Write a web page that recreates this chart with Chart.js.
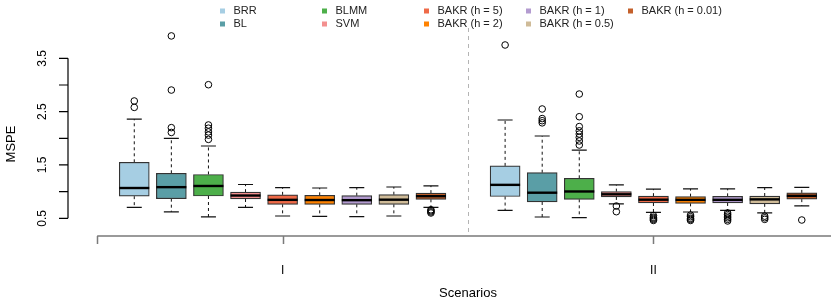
<!DOCTYPE html>
<html>
<head>
<meta charset="utf-8">
<script src="https://cdn.jsdelivr.net/npm/chart.js@4.4.1/dist/chart.umd.min.js"></script>
<style>
  html, body { margin: 0; padding: 0; background: #fff; }
  canvas { display: block; }
</style>
</head>
<body>
<canvas id="chart" width="831" height="302"></canvas>
<script>
const methods = ["BRR", "BL", "BLMM", "SVM", "BAKR (h = 5)", "BAKR (h = 2)", "BAKR (h = 1)", "BAKR (h = 0.5)", "BAKR (h = 0.01)"];
const scenarios = ["I", "II"];
const yTicks = [0.5, 1, 1.5, 2, 2.5, 3, 3.5];
const yTickLabels = ["0.5", "", "1.5", "", "2.5", "", "3.5"];

// scenario I
const whiskerLowI = [0.706, 0.622, 0.527, 0.706, 0.543, 0.537, 0.530, 0.543, 0.703];
const boxLowI = [0.915, 0.868, 0.918, 0.862, 0.762, 0.762, 0.762, 0.762, 0.856];
const medianI = [1.068, 1.084, 1.106, 0.927, 0.846, 0.843, 0.840, 0.849, 0.915];
const boxHighI = [1.550, 1.344, 1.322, 0.990, 0.940, 0.931, 0.924, 0.943, 0.972];
const whiskerHighI = [2.360, 2.000, 1.856, 1.134, 1.074, 1.068, 1.074, 1.087, 1.109];
const outliersI = [
  [2.58, 2.70],
  [2.11, 2.20, 2.905, 3.92],
  [1.98, 2.06, 2.12, 2.19, 2.25, 3.005],
  [],
  [],
  [],
  [],
  [],
  [0.60, 0.62, 0.64, 0.66]
];

// scenario II
const whiskerLowII = [0.650, 0.524, 0.512, 0.771, 0.612, 0.618, 0.650, 0.600, 0.733];
const boxLowII = [0.908, 0.806, 0.856, 0.900, 0.787, 0.780, 0.787, 0.771, 0.859];
const medianII = [1.127, 0.980, 1.003, 0.950, 0.849, 0.846, 0.846, 0.855, 0.921];
const boxHighII = [1.483, 1.355, 1.250, 1.000, 0.915, 0.906, 0.912, 0.918, 0.977];
const whiskerHighII = [2.343, 2.043, 1.778, 1.127, 1.046, 1.052, 1.052, 1.077, 1.080];
const outliersII = [
  [3.75],
  [2.29, 2.33, 2.37, 2.55],
  [1.874, 1.95, 2.018, 2.08, 2.14, 2.22, 2.405, 2.83],
  [0.624, 0.73],
  [0.46, 0.48, 0.50, 0.52, 0.55],
  [0.46, 0.48, 0.50, 0.53, 0.56],
  [0.45, 0.48, 0.51, 0.54, 0.57, 0.60],
  [0.48, 0.51, 0.54],
  [0.468]
];

const boxColors = ["#a6cee3", "#5a9ea6", "#4daf4a", "#f3908f", "#ef6a48", "#ff8200", "#b39bd0", "#cfbb98", "#c4602b"];

const stats = [
  { lo: whiskerLowI, q1: boxLowI, med: medianI, q3: boxHighI, hi: whiskerHighI, out: outliersI },
  { lo: whiskerLowII, q1: boxLowII, med: medianII, q3: boxHighII, hi: whiskerHighII, out: outliersII }
];

// box slot: scenario I at 1..9, gap at 10, scenario II at 11..19
const slot = (s, i) => s * 10 + i + 1;

const boxes = [];
const boxFill = [];
const points = [];
const whiskers = [];
stats.forEach((st, s) => {
  methods.forEach((m, i) => {
    const pos = slot(s, i);
    boxes.push({ x: pos, y: [st.q1[i], st.q3[i]] });
    boxFill.push(boxColors[i]);
    whiskers.push({ x: pos, lo: st.lo[i], hi: st.hi[i], q1: st.q1[i], q3: st.q3[i], med: st.med[i] });
    st.out[i].forEach((v) => points.push({ x: pos, y: v }));
  });
});

const font = "'Liberation Sans', Arial, Helvetica, sans-serif";

const boxPlugin = {
  id: "boxplot",
  beforeDatasetsDraw(chart) {
    const { ctx, scales: { x, y } } = chart;
    ctx.save();

    // scenario separator
    ctx.strokeStyle = "#b4b4b4";
    ctx.lineWidth = 1;
    ctx.setLineDash([4, 4]);
    const sx = Math.round(x.getPixelForValue(10)) + 0.5;
    ctx.beginPath();
    ctx.moveTo(sx, 28);
    ctx.lineTo(sx, 232);
    ctx.stroke();

    // whiskers
    const meta = chart.getDatasetMeta(0);
    whiskers.forEach((w, k) => {
      const px = x.getPixelForValue(w.x);
      const half = meta.data[k].width / 4;
      ctx.strokeStyle = "#111";
      ctx.lineWidth = 1;
      ctx.setLineDash([3, 3]);
      ctx.beginPath();
      ctx.moveTo(px, y.getPixelForValue(w.q3));
      ctx.lineTo(px, y.getPixelForValue(w.hi));
      ctx.moveTo(px, y.getPixelForValue(w.q1));
      ctx.lineTo(px, y.getPixelForValue(w.lo));
      ctx.stroke();
      ctx.setLineDash([]);
      ctx.lineWidth = 1.2;
      ctx.beginPath();
      ctx.moveTo(px - half, y.getPixelForValue(w.hi));
      ctx.lineTo(px + half, y.getPixelForValue(w.hi));
      ctx.moveTo(px - half, y.getPixelForValue(w.lo));
      ctx.lineTo(px + half, y.getPixelForValue(w.lo));
      ctx.stroke();
    });
    ctx.restore();
  },
  afterDatasetsDraw(chart) {
    const { ctx, scales: { x, y } } = chart;
    const meta = chart.getDatasetMeta(0);
    ctx.save();

    // medians
    ctx.strokeStyle = "#000";
    ctx.lineWidth = 2.4;
    whiskers.forEach((w, k) => {
      const px = x.getPixelForValue(w.x);
      const half = meta.data[k].width / 2;
      const py = y.getPixelForValue(w.med);
      ctx.beginPath();
      ctx.moveTo(px - half, py);
      ctx.lineTo(px + half, py);
      ctx.stroke();
    });

    // y axis
    const ax = chart.chartArea.left;
    ctx.strokeStyle = "#000";
    ctx.lineWidth = 1.2;
    ctx.beginPath();
    ctx.moveTo(ax, y.getPixelForValue(yTicks[0]));
    ctx.lineTo(ax, y.getPixelForValue(yTicks[yTicks.length - 1]));
    yTicks.forEach((t) => {
      const py = y.getPixelForValue(t);
      ctx.moveTo(ax - 9, py);
      ctx.lineTo(ax, py);
    });
    ctx.stroke();
    ctx.fillStyle = "#000";
    ctx.font = "12px " + font;
    ctx.textAlign = "center";
    ctx.textBaseline = "middle";
    yTicks.forEach((t, i) => {
      if (!yTickLabels[i]) return;
      ctx.save();
      ctx.translate(43, y.getPixelForValue(t));
      ctx.rotate(-Math.PI / 2);
      ctx.fillText(yTickLabels[i], 0, 0);
      ctx.restore();
    });
    ctx.save();
    ctx.font = "13px " + font;
    ctx.translate(11, 144);
    ctx.rotate(-Math.PI / 2);
    ctx.fillText("MSPE", 0, 0);
    ctx.restore();

    // x axis
    const ay = 236;
    ctx.strokeStyle = "#7a7a7a";
    ctx.lineWidth = 1.5;
    ctx.beginPath();
    ctx.moveTo(x.getPixelForValue(0), ay);
    ctx.lineTo(x.getPixelForValue(20), ay);
    [0, 5, 15, 20].forEach((t) => {
      const px = Math.round(x.getPixelForValue(t)) + 0.5;
      ctx.moveTo(px, ay);
      ctx.lineTo(px, ay + 8);
    });
    ctx.stroke();
    ctx.font = "12px " + font;
    scenarios.forEach((s, i) => {
      ctx.fillText(s, x.getPixelForValue(slot(i, 4)), 271);
    });
    ctx.font = "13px " + font;
    ctx.fillText("Scenarios", x.getPixelForValue(10), 293);

    // legend, two rows filled by column
    ctx.font = "11px " + font;
    ctx.textAlign = "left";
    methods.forEach((m, i) => {
      const col = Math.floor(i / 2);
      const row = i % 2;
      const tx = 233.5 + col * 102;
      const ty = 11 + row * 13;
      ctx.fillStyle = boxColors[i];
      ctx.fillRect(tx - 13.5, ty - 2.5, 5, 5);
      ctx.fillStyle = "#222";
      ctx.fillText(m, tx, ty);
    });
    ctx.restore();
  }
};

new Chart(document.getElementById("chart"), {
  type: "bar",
  data: {
    datasets: [
      {
        label: "boxes",
        data: boxes,
        backgroundColor: boxFill,
        borderColor: "#333",
        borderWidth: 1.2,
        borderSkipped: false,
        barThickness: 30,
        grouped: false
      },
      {
        type: "scatter",
        label: "outliers",
        data: points,
        pointRadius: 3.3,
        pointBackgroundColor: "rgba(0,0,0,0)",
        pointBorderColor: "#000",
        pointBorderWidth: 1,
        clip: false
      }
    ]
  },
  options: {
    responsive: false,
    devicePixelRatio: 1,
    animation: false,
    layout: { padding: { left: 68, right: 0, top: 30, bottom: 76 } },
    plugins: { legend: { display: false }, tooltip: { enabled: false } },
    scales: {
      x: { type: "linear", min: -0.787, max: 19.653, offset: false, display: false },
      y: { type: "linear", min: 0.3556, max: 4.031, beginAtZero: false, display: false }
    }
  },
  plugins: [boxPlugin]
});
</script>
</body>
</html>
